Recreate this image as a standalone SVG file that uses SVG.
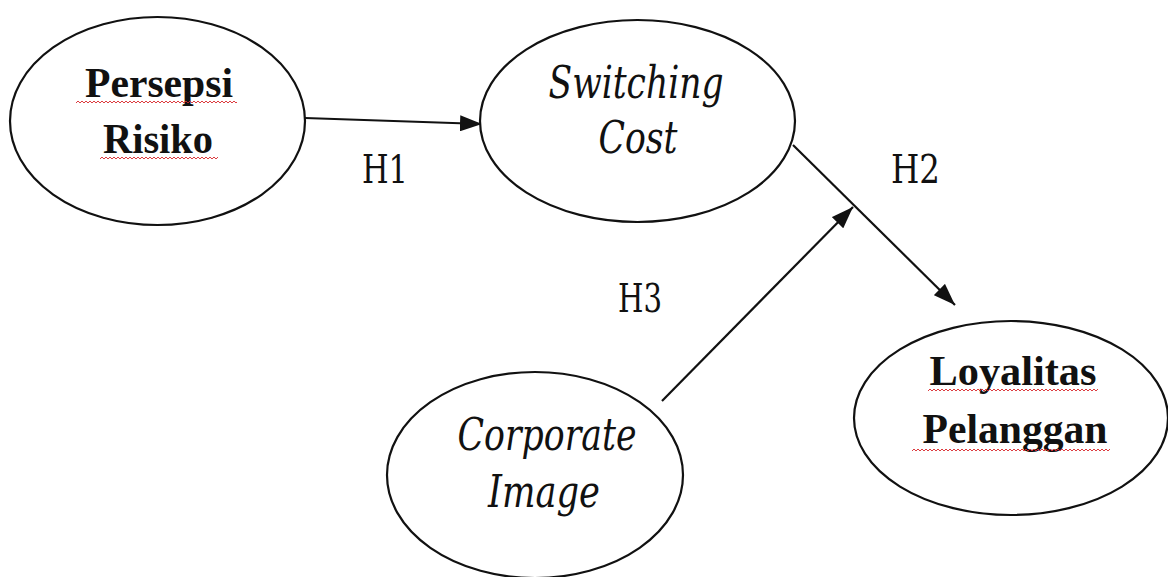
<svg xmlns="http://www.w3.org/2000/svg" width="1168" height="577" viewBox="0 0 1168 577">
  <style>
    .node { fill: #ffffff; stroke: #111111; stroke-width: 2.2; }
    .edge { stroke: #111111; stroke-width: 2.2; fill: none; marker-end: url(#arrow); }
    .bold { font-family: "Liberation Serif", serif; font-weight: bold; font-size: 42px; text-anchor: middle; fill: #111111; }
    .ital { font-family: "DejaVu Serif", serif; font-style: italic; font-size: 44px; text-anchor: middle; fill: #111111; }
    .hyp { font-family: "DejaVu Serif", serif; font-size: 40px; fill: #111111; }
    .squiggle { fill: url(#wave); }
  </style>
  <defs>
    <marker id="arrow" viewBox="0 0 22 16" refX="22" refY="8" markerWidth="22" markerHeight="16" markerUnits="userSpaceOnUse" orient="auto">
      <path d="M0,0 L22,8 L0,16 Z" fill="#111111"/>
    </marker>
    <!-- red zig-zag used for spell-check underlines -->
    <pattern id="wave" x="0" y="0" width="4" height="4" patternUnits="userSpaceOnUse">
      <path d="M0,3 L2,1 L4,3" fill="none" stroke="#d8262a" stroke-width="0.9"/>
    </pattern>
  </defs>

  <rect width="1168" height="577" fill="#ffffff"/>

  <g id="connectors">
    <line id="h1-line" class="edge" x1="305" y1="118" x2="482" y2="124"/>
    <line id="h2-line" class="edge" x1="793" y1="145" x2="955" y2="305"/>
    <line id="h3-line" class="edge" x1="662" y1="401" x2="853" y2="207"/>
  </g>

  <g id="persepsi-risiko">
    <ellipse class="node" cx="157.5" cy="121" rx="147.5" ry="104"/>
    <text class="bold" x="159" y="97" textLength="148" lengthAdjust="spacingAndGlyphs">Persepsi</text>
    <text class="bold" x="158" y="153" textLength="110" lengthAdjust="spacingAndGlyphs">Risiko</text>
    <rect class="squiggle" x="76" y="100" width="161" height="4"/>
    <rect class="squiggle" x="100" y="156" width="118" height="4"/>
  </g>

  <g id="switching-cost">
    <ellipse class="node" cx="637.5" cy="121" rx="157.5" ry="101"/>
    <text class="ital" x="636" y="98" textLength="175" lengthAdjust="spacingAndGlyphs">Switching</text>
    <text class="ital" x="638" y="153" textLength="79" lengthAdjust="spacingAndGlyphs">Cost</text>
  </g>

  <g id="loyalitas-pelanggan">
    <ellipse class="node" cx="1011" cy="418" rx="157" ry="97"/>
    <text class="bold" x="1013" y="385" textLength="167" lengthAdjust="spacingAndGlyphs">Loyalitas</text>
    <text class="bold" x="1015" y="443" textLength="185" lengthAdjust="spacingAndGlyphs">Pelanggan</text>
    <rect class="squiggle" x="928" y="389" width="170" height="4"/>
    <rect class="squiggle" x="912" y="448" width="198" height="4"/>
  </g>

  <g id="corporate-image">
    <ellipse class="node" cx="535" cy="475" rx="148" ry="103"/>
    <text class="ital" x="547" y="450" textLength="179" lengthAdjust="spacingAndGlyphs">Corporate</text>
    <text class="ital" x="544" y="507" textLength="112" lengthAdjust="spacingAndGlyphs">Image</text>
  </g>

  <g id="labels">
    <text class="hyp" x="362" y="183" textLength="46" lengthAdjust="spacingAndGlyphs">H1</text>
    <text class="hyp" x="891" y="183" textLength="49" lengthAdjust="spacingAndGlyphs">H2</text>
    <text class="hyp" x="618" y="312" textLength="44" lengthAdjust="spacingAndGlyphs">H3</text>
  </g>
</svg>
